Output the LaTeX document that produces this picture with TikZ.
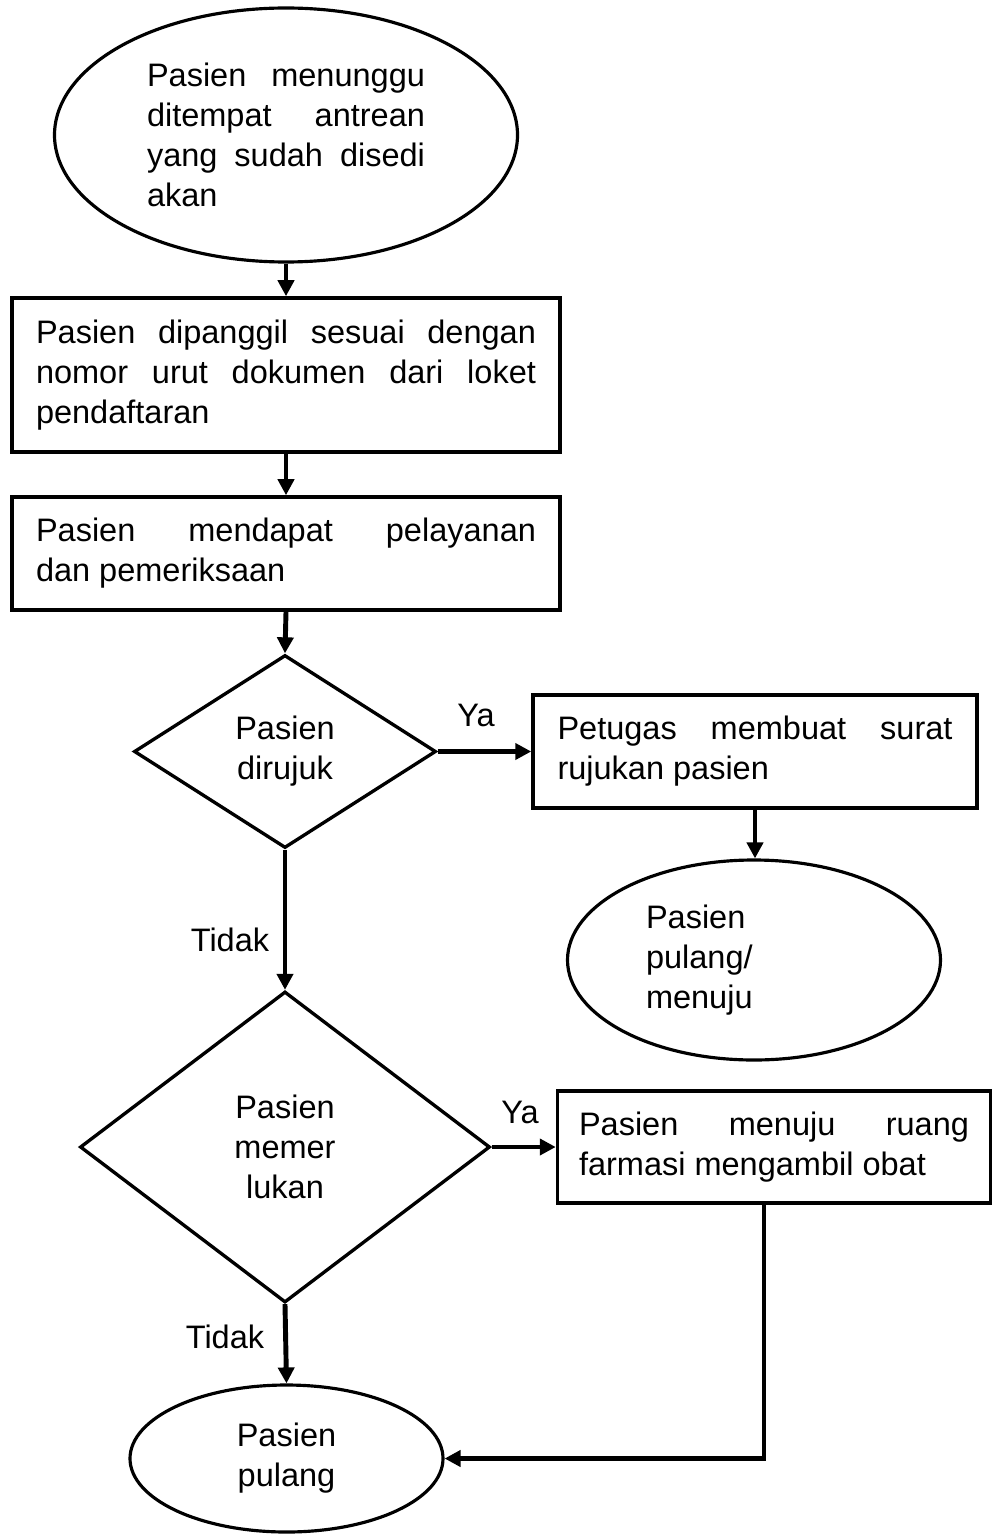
\documentclass[tikz,border=0pt]{standalone}
\usepackage{fontspec}
\setmainfont{Liberation Sans}
\usetikzlibrary{positioning, arrows.meta, shapes.geometric, calc}

\begin{document}
\begin{tikzpicture}[
    txt/.style={
        font=\fontsize{18.5}{22.8}\selectfont
    },
    prosesbox/.style={
        txt, rectangle, draw, line width=2pt,
        text width=#1, align=justify, inner sep=0pt
    },
    terminal/.style={
        txt, ellipse, draw, line width=1.8pt, inner sep=0pt
    },
    keputusan/.style={
        txt, diamond, draw, line width=1.9pt, inner sep=0pt, align=center
    },
    alur/.style={
        line width=2.8pt,
        -{Triangle[length=3.2mm, width=3.2mm]}
    },
    cabang/.style={txt, inner sep=1pt}
]
    \useasboundingbox (0,0) rectangle (19.84,-30.72);

    % Start and process boxes ===========================
    \node[terminal, minimum width=9.26cm, minimum height=5.08cm,
          text width=5.56cm, align=justify] (Tunggu) at (5.72,-2.70) {
        Pasien menunggu\linebreak
        ditempat antrean\linebreak
        yang sudah disedi\linebreak
        akan
    };

    \node[prosesbox=10cm, minimum width=10.96cm, minimum height=3.08cm] (Panggil) at (5.72,-7.50) {
        Pasien dipanggil sesuai dengan\linebreak
        nomor urut dokumen dari loket\linebreak
        pendaftaran
    };

    \node[prosesbox=10cm, minimum width=10.96cm, minimum height=2.26cm] (Periksa) at (5.72,-11.07) {
        Pasien mendapat pelayanan\linebreak
        dan pemeriksaan
    };

    % Decisions ===========================
    \node[keputusan, minimum width=6.04cm, minimum height=3.86cm] (Rujuk) at (5.70,-15.03) {
        Pasien\\dirujuk
    };

    \node[keputusan, minimum width=8.20cm, minimum height=6.22cm] (Obat) at (5.70,-22.94) {
        Pasien\\memer\\lukan
    };

    % Right branch ===========================
    \node[prosesbox=7.9cm, minimum width=8.88cm, minimum height=2.26cm] (Surat) at (15.10,-15.03) {
        Petugas membuat surat\linebreak
        rujukan pasien
    };

    \node[terminal, minimum width=7.46cm, minimum height=4.00cm,
          text width=4.32cm, align=left] (Menuju) at (15.08,-19.20) {
        Pasien\\pulang/\\menuju
    };

    \node[prosesbox=7.8cm, minimum width=8.66cm, minimum height=2.24cm] (Farmasi) at (15.48,-22.94) {
        Pasien menuju ruang\linebreak
        farmasi mengambil obat
    };

    % End ===========================
    \node[terminal, minimum width=6.26cm, minimum height=2.94cm, align=center] (Pulang) at (5.73,-29.17) {
        Pasien\\pulang
    };

    % Connectors ====================
    \draw[alur] (Tunggu.south) -- (Panggil.north);
    \draw[alur] (Panggil.south) -- (Periksa.north);
    \draw[alur] (Periksa.south) -- (Rujuk.north);
    \draw[alur] (Rujuk.east) -- (Surat.west);
    \draw[alur] (Surat.south) -- (Surat.south |- Menuju.north);
    \draw[alur] (Rujuk.south) -- (Obat.north);
    \draw[alur] (Obat.east) -- (Farmasi.west);
    \draw[alur] (Obat.south) -- (Pulang.north);
    \draw[alur] ([xshift=-2mm]Farmasi.south) |- (Pulang.east);

    % Branch labels ==================
    \node[cabang] (YaRujuk) at (9.52,-14.30) {Ya};
    \node[cabang] (TidakRujuk) at (4.60,-18.80) {Tidak};
    \node[cabang] (YaObat) at (10.40,-22.24) {Ya};
    \node[cabang] (TidakObat) at (4.50,-26.74) {Tidak};

\end{tikzpicture}
\end{document}
